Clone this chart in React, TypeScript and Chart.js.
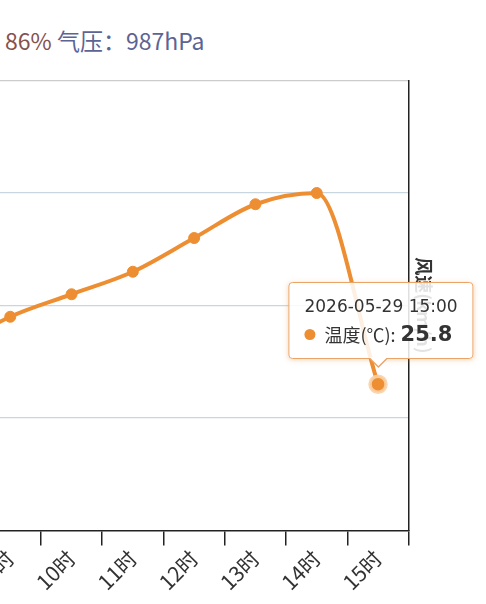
import { useEffect, useRef } from 'react'
import { Chart, registerables } from 'chart.js'
Chart.register(...registerables)

const day = '2026-05-29'
const hours = [8, 9, 10, 11, 12, 13, 14, 15]
const labels = hours.map(h => `${h}时`)
const temps = [26.1, 26.4, 26.6, 26.8, 27.1, 27.4, 27.5, 25.8]
const yTicks = [24.5, 25.5, 26.5, 27.5, 28.5]
const activeIdx = 7

const ORANGE = '#ee8e32'
const FONT = '"Noto Sans CJK SC", "Noto Sans", sans-serif'
const TIP_FONT = '"DejaVu Sans", "Noto Sans CJK SC", sans-serif'

export default function App() {
  const ref = useRef<HTMLCanvasElement>(null)
  const tipRef = useRef<HTMLDivElement>(null)
  const inst = useRef<Chart | null>(null)

  useEffect(() => {
    if (!ref.current) return
    inst.current?.destroy()
    Chart.defaults.font.family = FONT
    const chart = new Chart(ref.current, {
      type: 'line',
      data: {
        labels,
        datasets: [{
          label: '温度(℃)',
          data: temps,
          borderColor: ORANGE,
          backgroundColor: ORANGE,
          borderWidth: 4,
          cubicInterpolationMode: 'monotone',
          pointRadius: 5.5,
          pointBackgroundColor: ORANGE,
          pointBorderColor: ORANGE,
          pointBorderWidth: 1,
          pointHoverRadius: 8,
          pointHoverBackgroundColor: ORANGE,
          pointHoverBorderColor: 'rgba(250,208,165,0.9)',
          pointHoverBorderWidth: 3.5,
          yAxisID: 'y',
        }],
      },
      options: {
        responsive: true, maintainAspectRatio: false, animation: false,
        events: [],
        layout: { padding: { left: 18.3, right: 47.7, top: 80.5, bottom: 0 } },
        plugins: {
          legend: { display: false },
          tooltip: {
            enabled: false,
            external: ({ tooltip }) => {
              const el = tipRef.current
              if (!el) return
              if (!tooltip.opacity || !tooltip.dataPoints?.length) { el.style.opacity = '0'; return }
              const p = tooltip.dataPoints[0]
              const t = el.querySelector('.tt') as HTMLDivElement
              const n = el.querySelector('.tn') as HTMLSpanElement
              const v = el.querySelector('.tv') as HTMLSpanElement
              t.textContent = `${day} ${String(hours[p.dataIndex]).padStart(2, '0')}:00`
              n.textContent = `${p.dataset.label}: `
              v.textContent = String(p.raw)
              el.style.left = tooltip.caretX + 'px'
              el.style.top = tooltip.caretY + 'px'
              el.style.opacity = '1'
            },
          },
        },
        scales: {
          x: {
            offset: true,
            grid: { offset: true, drawOnChartArea: false, drawTicks: true, tickLength: 15, color: '#222', lineWidth: 1.5 },
            border: { display: true, color: '#222', width: 1.5 },
            ticks: { autoSkip: false, minRotation: 45, maxRotation: 45, color: '#333', padding: 0, font: { size: 21 } },
            afterFit: s => { s.height = 73.5 },
          },
          y: {
            position: 'left',
            min: yTicks[0], max: yTicks[yTicks.length - 1],
            afterBuildTicks: s => { s.ticks = yTicks.map(value => ({ value })) },
            ticks: { display: false },
            border: { display: false },
            grid: {
              drawTicks: false,
              lineWidth: 1.3,
              color: c => c.tick?.value === yTicks[yTicks.length - 1] ? '#cccccc'
                : c.tick?.value === yTicks[0] ? 'rgba(0,0,0,0)' : '#c8d6e0',
            },
          },
          y1: {
            position: 'right',
            min: 0, max: 10,
            ticks: { display: false },
            grid: { display: false, drawTicks: false },
            border: { display: true, color: '#222', width: 1.5 },
            title: { display: true, text: '风速(km/h)', color: '#333', font: { size: 18, weight: 'bold' }, padding: { top: 4, bottom: 4 } },
          },
        },
      },
    })
    inst.current = chart
    const active = [{ datasetIndex: 0, index: activeIdx }]
    chart.setActiveElements(active)
    chart.tooltip?.setActiveElements(active, { x: 0, y: 0 })
    chart.update()
    return () => { inst.current?.destroy() }
  }, [])

  return (
    <div style={{ position: 'fixed', inset: 0, overflow: 'hidden', background: '#fff', fontFamily: FONT }}>
      <div style={{ position: 'absolute', left: 5, top: 24, fontSize: 23, whiteSpace: 'nowrap', lineHeight: '32px' }}>
        <span style={{ color: '#84524e' }}>86% </span>
        <span style={{ color: '#5b6494' }}>气压：987hPa</span>
      </div>
      <div style={{ position: 'absolute', left: -100, top: 0, width: 586, height: 604 }}>
        <canvas ref={ref} />
        <div ref={tipRef} style={{ position: 'absolute', pointerEvents: 'none', opacity: 0, width: 0, height: 0 }}>
          <div style={{
            position: 'absolute', left: 3, bottom: 25, transform: 'translateX(-50%)',
            background: 'rgba(255,255,255,0.86)', border: '1px solid #eba467', borderRadius: 4,
            boxShadow: '0 1px 5px rgba(220,140,60,0.35)', padding: '12px 15px 10px', whiteSpace: 'nowrap', color: '#333',
            fontFamily: TIP_FONT,
          }}>
            <div className="tt" style={{ fontSize: 17, lineHeight: '22px' }} />
            <div style={{ display: 'flex', alignItems: 'center', marginTop: 3, lineHeight: '28px' }}>
              <span style={{ width: 11, height: 11, borderRadius: '50%', background: ORANGE, display: 'inline-block', marginRight: 9 }} />
              <span className="tn" style={{ fontSize: 18, fontFamily: FONT }} />
              <span className="tv" style={{ fontSize: 21, fontWeight: 700, marginLeft: 5 }} />
            </div>
            <div style={{ position: 'absolute', left: '50%', bottom: -10, marginLeft: -13, width: 0, height: 0, borderLeft: '10px solid transparent', borderRight: '10px solid transparent', borderTop: '10px solid #eba467' }} />
            <div style={{ position: 'absolute', left: '50%', bottom: -8, marginLeft: -12, width: 0, height: 0, borderLeft: '9px solid transparent', borderRight: '9px solid transparent', borderTop: '9px solid #fff' }} />
          </div>
        </div>
      </div>
    </div>
  )
}
